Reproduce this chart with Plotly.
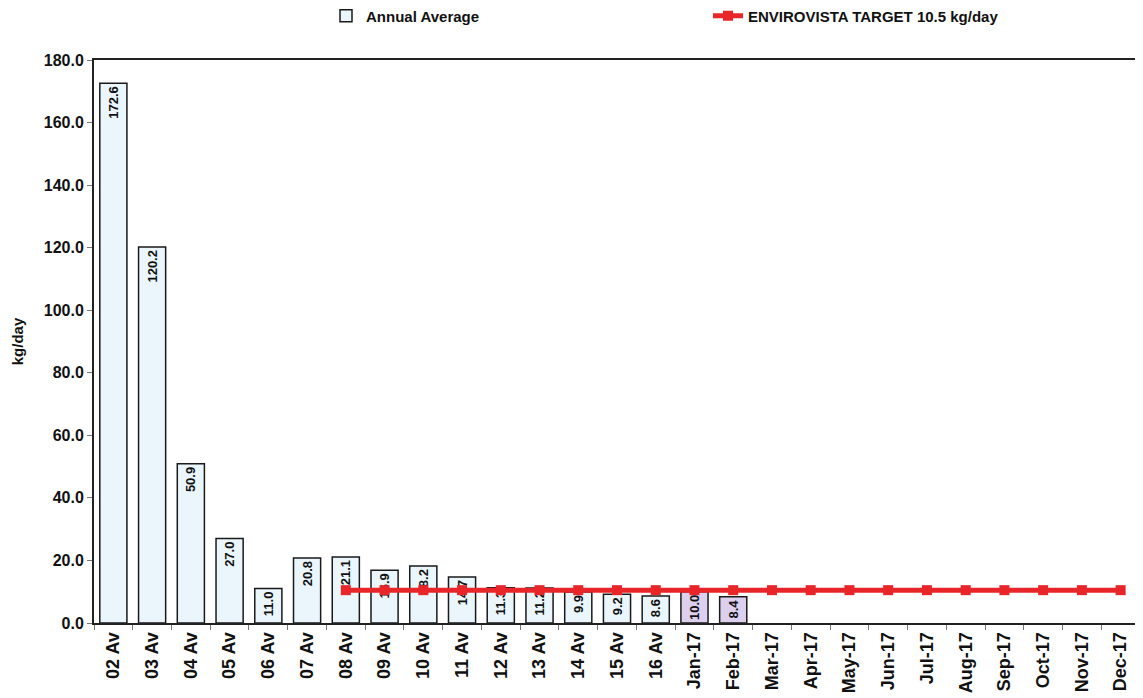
import plotly.graph_objects as go

categories = ["02 Av", "03 Av", "04 Av", "05 Av", "06 Av", "07 Av", "08 Av", "09 Av", "10 Av",
              "11 Av", "12 Av", "13 Av", "14 Av", "15 Av", "16 Av",
              "Jan-17", "Feb-17", "Mar-17", "Apr-17", "May-17", "Jun-17", "Jul-17",
              "Aug-17", "Sep-17", "Oct-17", "Nov-17", "Dec-17"]
bar_categories = categories[:17]
annual_values = [172.6, 120.2, 50.9, 27.0, 11.0, 20.8, 21.1, 16.9, 18.2, 14.7, 11.3, 11.2,
                 9.9, 9.2, 8.6, 10.0, 8.4]
bar_colors = ["#eaf5fc"] * 15 + ["#dcd0ee"] * 2
target_categories = categories[6:]
target_values = [10.5] * len(target_categories)
y_ticks = [0, 20, 40, 60, 80, 100, 120, 140, 160, 180]

FONT = "Liberation Sans, Arial, sans-serif"
# page has an 8px body margin; figure coordinates are page - 8
W, H = 1135, 690
PLOT_L, PLOT_R = 86, 1132
PLOT_T, PLOT_B = 52, 615
PW = PLOT_R - PLOT_L
PH = PLOT_B - PLOT_T

fig = go.Figure()
fig.add_trace(go.Bar(
    x=bar_categories, y=annual_values, name="Annual Average",
    marker=dict(color=bar_colors, line=dict(color="#1a1a1a", width=1.5)),
    width=0.7,
    text=[f"{v:.1f}" for v in annual_values],
    textposition="inside", insidetextanchor="end", textangle=-90,
    constraintext="none",
    textfont=dict(family=FONT, size=13, color="#111111", weight="bold"),
    hoverinfo="x+y",
    legend="legend",
))
fig.add_trace(go.Scatter(
    x=target_categories, y=target_values, name="ENVIROVISTA TARGET 10.5 kg/day",
    mode="lines+markers",
    line=dict(color="#e8262a", width=5),
    marker=dict(symbol="square", size=10, color="#e8262a"),
    legend="legend2",
))

leg_y = 1 + (PLOT_T - 8) / PH
leg_common = dict(orientation="h", xanchor="left", y=leg_y, yanchor="middle",
                  font=dict(family=FONT, size=15, weight="bold", color="#111111"),
                  bgcolor="rgba(0,0,0,0)", itemwidth=30)

fig.update_layout(
    width=W, height=H,
    margin=dict(l=PLOT_L, r=W - PLOT_R, t=PLOT_T, b=H - PLOT_B, autoexpand=False),
    plot_bgcolor="white", paper_bgcolor="white",
    font=dict(family=FONT, size=14, color="#111111"),
    showlegend=True,
    legend=dict(x=(318 - PLOT_L) / PW, **leg_common),
    legend2=dict(x=(700 - PLOT_L) / PW, **leg_common),
    xaxis=dict(
        categoryorder="array", categoryarray=categories,
        tickangle=-90, tickson="boundaries", ticks="outside", ticklen=5, tickcolor="#777777",
        tickfont=dict(family=FONT, size=18, weight="bold"),
        showline=True, linecolor="#222222", linewidth=2, mirror=True,
        showgrid=False, range=[-0.5, 26.5], automargin=False,
    ),
    yaxis=dict(
        range=[0, 180], tickvals=y_ticks, tickformat=".1f",
        ticks="outside", ticklen=5, tickcolor="#777777",
        tickfont=dict(family=FONT, size=16, weight="bold"),
        showline=True, linecolor="#222222", linewidth=2, mirror=True,
        showgrid=False, zeroline=False, automargin=False,
        title=dict(text="kg/day", font=dict(family=FONT, size=15, weight="bold"), standoff=17),
    ),
)
fig.write_html("out.html")
